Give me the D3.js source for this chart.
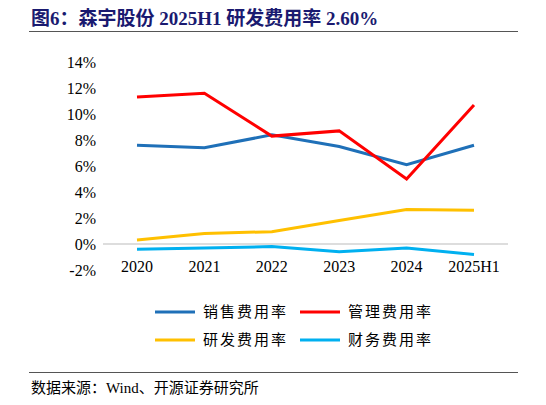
<!DOCTYPE html><html><head><meta charset="utf-8"><script src="https://cdn.jsdelivr.net/npm/d3@7"></script>
<style>body{margin:0;background:#fff}</style></head><body><svg id="c" width="546" height="405"></svg>
<script>
const categories=["2020","2021","2022","2023","2024","2025H1"];
const sales=[7.6,7.4,8.4,7.5,6.1,7.6];
const admin=[11.3,11.6,8.3,8.7,5.0,10.7];
const rnd=[0.3,0.8,0.95,1.8,2.65,2.6];
const fin=[-0.4,-0.3,-0.2,-0.6,-0.3,-0.8];
const yTicks=[-2,0,2,4,6,8,10,12,14];
const names=["销售费用率","管理费用率","研发费用率","财务费用率"];
const colors=["#1F70B8","#FF0000","#FFC000","#00B0F0"];
const series=[sales,admin,rnd,fin];
const svg=d3.select("#c");
const serif="'Times New Roman','Liberation Serif',serif";
svg.append("text").attr("x",31).attr("y",25).attr("fill","#1a1a70").attr("font-weight","bold")
 .attr("font-size",19).attr("font-family",serif+",'Noto Sans CJK SC'").text("图6：森宇股份 2025H1 研发费用率 2.60%");
svg.append("line").attr("x1",29).attr("x2",518).attr("y1",31.5).attr("y2",31.5).attr("stroke","#555").attr("stroke-width",1);
const x=d3.scalePoint().domain(categories).range([137,474]);
const y=d3.scaleLinear().domain([-2,14]).range([270,62]);
const ax=svg.append("g").attr("transform","translate(0,"+y(0)+")").call(d3.axisBottom(x).tickSize(0).tickFormat(()=>"" ));
ax.select(".domain").attr("d","M103,0H508").attr("stroke","#bbb");
svg.append("g").selectAll("text").data(categories).join("text").attr("x",d=>x(d)).attr("y",272)
 .attr("text-anchor","middle").attr("font-size",16).attr("font-family",serif).text(d=>d);
const ya=svg.append("g").attr("transform","translate(96,0)").call(d3.axisLeft(y).tickValues(yTicks).tickSize(0).tickPadding(0).tickFormat(d=>d+"%"));
ya.selectAll("text").attr("font-size",16).attr("font-family",serif).attr("fill","#000");
ya.select(".domain").remove();
const line=d3.line().x((d,i)=>x(categories[i])).y(d=>y(d));
series.forEach((s,i)=>svg.append("path").attr("d",line(s)).attr("fill","none").attr("stroke",colors[i]).attr("stroke-width",3));
const lp=[[155,312],[300,312],[155,340],[300,340]];
names.forEach((n,i)=>{const g=svg.append("g");
 g.append("line").attr("x1",lp[i][0]).attr("x2",lp[i][0]+40).attr("y1",lp[i][1]).attr("y2",lp[i][1]).attr("stroke",colors[i]).attr("stroke-width",3);
 g.append("text").attr("x",lp[i][0]+48).attr("y",lp[i][1]+5).attr("font-size",15).attr("letter-spacing",2).attr("font-family","'Noto Sans CJK SC'").text(n);});
svg.append("line").attr("x1",29).attr("x2",518).attr("y1",372.5).attr("y2",372.5).attr("stroke","#555");
svg.append("text").attr("x",31).attr("y",393).attr("font-size",15).attr("font-family",serif+",'Noto Sans CJK SC'").text("数据来源：Wind、开源证券研究所");
</script></body></html>
